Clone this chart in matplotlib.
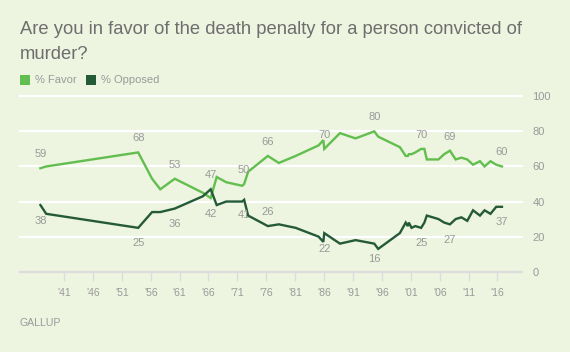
import matplotlib
matplotlib.use("Agg")
import matplotlib.pyplot as plt
from matplotlib.patches import Rectangle

# ---- data ----
years = [1936.92, 1937.92, 1953.84, 1956.24, 1957.66, 1960.17, 1965.02, 1966.38, 1967.42, 1969.07,
         1971.83, 1972.17, 1972.86, 1976.27, 1978.17, 1981.08, 1985.04, 1985.87, 1986.03, 1988.74,
         1991.45, 1994.68, 1995.36, 1999.11, 2000.12, 2000.48, 2000.66, 2001.13, 2001.78, 2002.79,
         2003.35, 2003.77, 2004.79, 2005.79, 2006.78, 2007.77, 2008.76, 2009.75, 2010.77, 2011.77,
         2012.97, 2013.76, 2014.79, 2015.78, 2016.77]
favor = [59, 60, 68, 53, 47, 53, 45, 42, 54, 51,
         49, 50, 57, 66, 62, 66, 72, 75, 70, 79,
         76, 80, 77, 71, 66, 66, 67, 67, 68, 70,
         70, 64, 64, 64, 67, 69, 64, 65, 64, 61,
         63, 60, 63, 61, 60]
opposed = [38, 33, 25, 34, 34, 36, 43, 47, 38, 40,
           40, 41, 32, 26, 27, 25, 20, 17, 22, 16,
           18, 16, 13, 22, 28, 26, 28, 25, 26, 25,
           28, 32, 31, 30, 28, 27, 30, 31, 29, 35,
           32, 35, 33, 37, 37]

favor_label_above = [0, 2, 5, 11, 13, 18, 21, 29, 35, 44]
favor_label_below = [7]
opposed_label_above = [7, 13]
opposed_label_below = [0, 2, 5, 11, 18, 21, 29, 35, 44]

tick_years = list(range(1941, 2017, 5))
tick_labels = ["'" + str(y)[2:] for y in tick_years]
y_ticks = [0, 20, 40, 60, 80, 100]

title_lines = ["Are you in favor of the death penalty for a person convicted of", "murder?"]
series_names = ["% Favor", "% Opposed"]
source = "GALLUP"

# ---- style ----
BG = "#edf4df"
FAV = "#62be4e"
OPP = "#255a38"
GRAY = "#9a9a9a"
TITLE = "#6e6e6e"
FONT = ["Liberation Sans", "DejaVu Sans"]
plt.rcParams["font.family"] = FONT

W, H = 570, 352
fig = plt.figure(figsize=(W / 100, H / 100), dpi=100)
fig.patch.set_facecolor(BG)

ax_left, ax_right = 20, 522
ax_top, ax_bottom = 96.3, 271.7
ax = fig.add_axes([ax_left / W, 1 - ax_bottom / H, (ax_right - ax_left) / W, (ax_bottom - ax_top) / H])
ax.set_facecolor(BG)
ax.set_xlim(1933.39, 2020.24)
ax.set_ylim(0, 100)
for s in ax.spines.values():
    s.set_visible(False)

for v in y_ticks[1:]:
    ax.axhline(v, color="white", lw=1.6, zorder=1, clip_on=False)
ax.axhline(0, color="#dcdcdc", lw=1.6, zorder=1, clip_on=False)

ax.set_xticks(tick_years)
ax.set_xticklabels(tick_labels)
ax.tick_params(axis="x", length=6.5, width=0.9, color="#dcdcdc", labelcolor=GRAY,
               labelsize=7.5, pad=5.5)
ax.yaxis.tick_right()
ax.set_yticks(y_ticks)
ax.tick_params(axis="y", length=0, pad=7.5, labelcolor=GRAY, labelsize=8)

ax.plot(years, favor, color=FAV, lw=1.7, zorder=3, solid_joinstyle="miter")
ax.plot(years, opposed, color=OPP, lw=1.7, zorder=3, solid_joinstyle="miter")

def lab(idx_list, vals, dy):
    for i in idx_list:
        ax.annotate(str(vals[i]), (years[i], vals[i]), xytext=(0, dy), textcoords="offset points",
                    ha="center", va="center", fontsize=8, color=GRAY, zorder=4)

lab(favor_label_above, favor, 10.2)
lab(favor_label_below, favor, -11.2)
lab(opposed_label_above, opposed, 10.2)
lab(opposed_label_below, opposed, -11.2)

# title
fig.text(20 / W, 1 - 33.6 / H, title_lines[0], ha="left", va="baseline", fontsize=13.2, color=TITLE)
fig.text(20 / W, 1 - 58.6 / H, title_lines[1], ha="left", va="baseline", fontsize=13.2, color=TITLE)

# legend
for (x0, name, col, tx) in [(20, series_names[0], FAV, 35.3), (86.2, series_names[1], OPP, 101)]:
    fig.add_artist(Rectangle((x0 / W, 1 - 84.5 / H), 9.6 / W, 9.6 / H, transform=fig.transFigure,
                             facecolor=col, edgecolor="none"))
    fig.text(tx / W, 1 - 79.7 / H, name, ha="left", va="center", fontsize=8, color=GRAY)

fig.text(20 / W, 1 - 323.5 / H, source, ha="left", va="center", fontsize=7.6, color=GRAY)

fig.savefig("out.png", dpi=100, facecolor=BG)
